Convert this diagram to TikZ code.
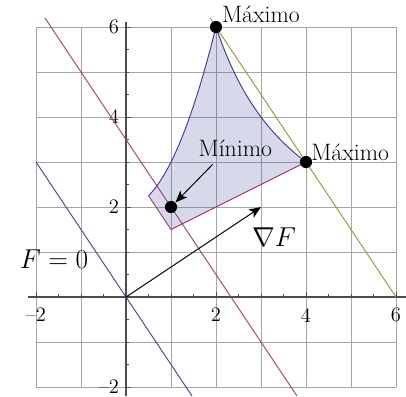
\documentclass[tikz,border=0pt]{standalone}
\usetikzlibrary{arrows.meta, positioning}
\definecolor{regBlue}{HTML}{3D3D99}
\definecolor{regPurple}{HTML}{993D71}
\definecolor{regGold}{HTML}{998D3D}
\definecolor{regGrid}{HTML}{A6A6A6}
\definecolor{regAxis}{HTML}{4D4D4D}
\tikzset{
  regfig/.style={
    every node/.append style={inner sep=0pt},
    >={Stealth[length=7.5pt, width=6pt, inset=1.8pt]},
  },
  gridline/.style={draw=regGrid, line width=0.6pt},
  axisline/.style={draw=regAxis, line width=0.9pt},
  tickline/.style={draw=regAxis, line width=0.6pt},
  ticklabel/.style={font=\fontsize{13}{15}\selectfont},
  curveedge/.style={draw=regBlue, line width=0.6pt},
  cutedge/.style={draw=regPurple, line width=0.6pt},
  levelF/.style={line width=0.6pt},
  % Zulaessiger Bereich: halbtransparent, damit das Gitter sichtbar bleibt.
  regionfill/.style={fill=regBlue, fill opacity=0.2},
  extremum/.style={circle, fill=black, minimum size=2.7mm, inner sep=0pt},
  extlabel/.style={font=\fontsize{15}{18}\selectfont},
  biglabel/.style={font=\fontsize{18.5}{22}\selectfont},
  pointer/.style={draw=black, line width=0.6pt, ->},
}

\begin{document}
\begin{tikzpicture}[regfig]
  \useasboundingbox (-2.8,-2.2) rectangle (6.222,6.6);
  \draw[gridline] (-2,-2) grid (6,6);
  \draw[axisline] (-2.17,0) -- (6.222,0);
  \draw[axisline] (0,-2.2) -- (0,6.1);
  \foreach \t in {-1.5,-1,...,5.5}
    \draw[tickline] (\t,0) -- (\t,0.065);
  \foreach \t in {-2,2,4,6}
    \draw[tickline] (\t,0) -- (\t,0.11);
  \foreach \t in {-2,-1.5,...,6}
    \draw[tickline] (0,\t) -- (0.065,\t);
  \foreach \t in {-2,2,4,6}
    \draw[tickline] (0,\t) -- (0.12,\t);
  \foreach \t in {2,4,6} {
    \node[ticklabel, anchor=north] (xl\t) at (\t,-0.24) {\t};
    \node[ticklabel, anchor=east] (yl\t) at (-0.15,\t) {\t};
  }
  \node[ticklabel, anchor=north] (xlm2) at (-2,-0.24) {\textendash2};
  \node[ticklabel, anchor=east] (ylm2) at (-0.15,-2) {\textendash2};

  \fill[regionfill] plot[domain=0.5:2, samples=40] (\x,{\x*\x+2})
    -- plot[domain=2:4, samples=40] (\x,{12/\x}) -- (1,1.5) -- cycle;
  \draw[curveedge] plot[domain=0.5:2, samples=40] (\x,{\x*\x+2});
  \draw[curveedge] plot[domain=2:4, samples=40] (\x,{12/\x});
  \draw[cutedge] (0.5,2.25) -- (1,1.5) -- (4,3);

  \draw[levelF, regBlue] (-2,3) -- (1.4667,-2.2);
  \draw[levelF, regPurple] (-1.8,6.2) -- (3.8,-2.2);
  \draw[levelF, regGold] (1.8667,6.2) -- (6,0);

  \coordinate (o) at (0,0);
  \coordinate (gradtip) at (3,2);
  \draw[pointer] (o) -- (gradtip);

  \node[extremum] (maxtop) at (2,6) {};
  \node[extremum] (maxright) at (4,3) {};
  \node[extremum] (mindot) at (1,2) {};
  \node[extlabel, anchor=base west] (maxtoplabel) at (2.127,6.1) {Máximo};
  \node[extlabel, anchor=base west] (maxrightlabel) at (4.11,3.04) {Máximo};
  \node[extlabel, anchor=base west] (minlabel) at (1.607,3.13) {Mínimo};
  \coordinate (minfrom) at ([shift={(0.32,-0.17)}]minlabel.south west);
  \draw[pointer] (minfrom) -- (mindot);

  \node[biglabel] (gradlabel) at (3.29,1.32) {$\nabla F$};
  \node[biglabel] (zerolabel) at (-1.6,0.84) {$F=0$};
\end{tikzpicture}
\end{document}
